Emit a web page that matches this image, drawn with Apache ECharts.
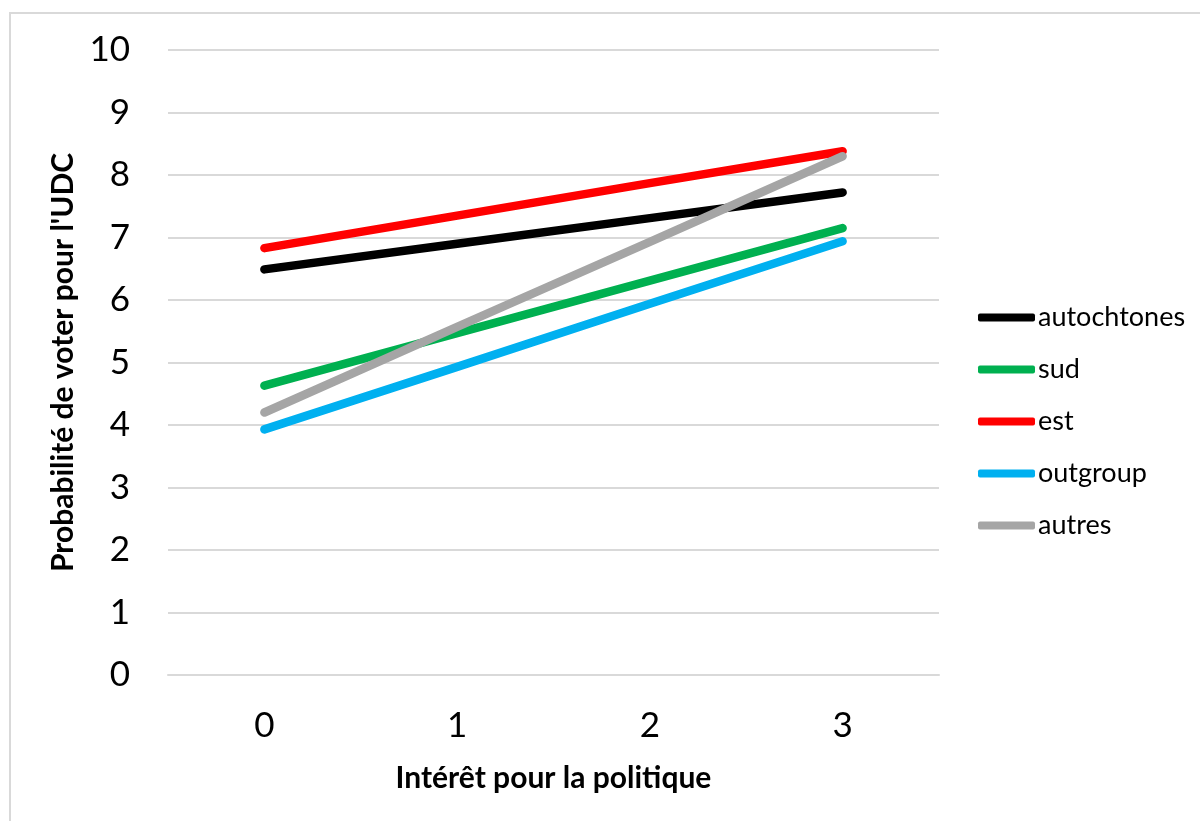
<!DOCTYPE html>
<html>
<head>
<meta charset="utf-8">
<title>Probabilité de voter pour l'UDC</title>
<script src="https://cdn.jsdelivr.net/npm/echarts@6/dist/echarts.min.js"></script>
<style>
  html, body { margin: 0; padding: 0; background: #ffffff; }
  #chart { width: 1200px; height: 821px; }
</style>
</head>
<body>
<div id="chart"></div>
<script>
// Interest in politics (0–3) on the x axis
const categories = ['0', '1', '2', '3'];

// Predicted probability of voting for the UDC, by group
const autochtones = [6.49, 6.90, 7.31, 7.72];
const sud         = [4.63, 5.47, 6.31, 7.15];
const est         = [6.83, 7.35, 7.87, 8.38];
const outgroup    = [3.93, 4.93, 5.94, 6.94];
const autres      = [4.20, 5.57, 6.93, 8.30];

const seriesDefs = [
  { name: 'autochtones', data: autochtones, color: '#000000' },
  { name: 'sud',         data: sud,         color: '#00b050' },
  { name: 'est',         data: est,         color: '#ff0000' },
  { name: 'outgroup',    data: outgroup,    color: '#00b0f0' },
  { name: 'autres',      data: autres,      color: '#a5a5a5' }
];

const font = 'Lato, "Open Sans", "Noto Sans", sans-serif';

const chart = echarts.init(document.getElementById('chart'), null, { renderer: 'canvas' });

chart.setOption({
  animation: false,
  backgroundColor: '#ffffff',
  textStyle: { fontFamily: font },
  graphic: [{
    type: 'rect',
    shape: { x: 10, y: 13, width: 1250, height: 900 },
    style: { fill: 'none', stroke: '#d9d9d9', lineWidth: 2 },
    silent: true
  }],
  grid: { left: 168, right: 261, top: 50, bottom: 146 },
  legend: {
    orient: 'vertical',
    left: 978,
    top: 304,
    padding: 0,
    itemWidth: 57,
    itemHeight: 8,
    itemGap: 25,
    icon: 'roundRect',
    textStyle: { fontSize: 27, color: '#000000', fontFamily: font, padding: [0, 0, 0, -2] },
    data: seriesDefs.map(s => s.name)
  },
  xAxis: {
    type: 'category',
    data: categories,
    boundaryGap: true,
    name: 'Intérêt pour la politique',
    nameLocation: 'middle',
    nameGap: 88,
    nameTextStyle: { fontSize: 30, fontWeight: 'bold', color: '#000000', fontFamily: font },
    axisLine: { show: true, lineStyle: { color: '#d9d9d9', width: 2 } },
    axisTick: { show: false },
    axisLabel: { fontSize: 35, color: '#000000', margin: 33, fontFamily: font }
  },
  yAxis: {
    type: 'value',
    min: 0,
    max: 10,
    interval: 1,
    name: "Probabilité de voter pour l'UDC",
    nameLocation: 'middle',
    nameGap: 90,
    nameTextStyle: { fontSize: 30, fontWeight: 'bold', color: '#000000', fontFamily: font },
    axisLine: { show: false },
    axisTick: { show: false },
    axisLabel: { fontSize: 35, color: '#000000', margin: 38, fontFamily: font },
    splitLine: { show: true, lineStyle: { color: '#d9d9d9', width: 2 } }
  },
  series: seriesDefs.map(s => ({
    name: s.name,
    type: 'line',
    data: s.data,
    color: s.color,
    symbol: 'none',
    smooth: false,
    lineStyle: { width: 8.5, color: s.color, cap: 'round', join: 'round' }
  }))
});
</script>
</body>
</html>
